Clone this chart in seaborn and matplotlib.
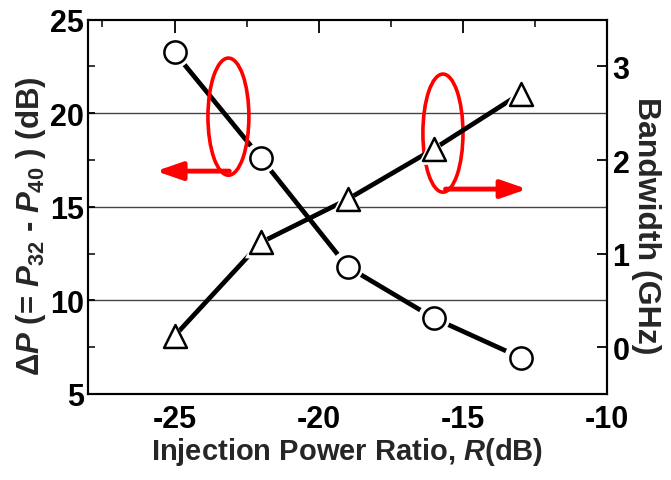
import matplotlib
matplotlib.use("Agg")
import matplotlib.pyplot as plt
import seaborn as sns
import pandas as pd
from matplotlib.patches import Ellipse
from matplotlib.ticker import MultipleLocator

# ---- data ----
injection_ratio = [-25, -22, -19, -16, -13]
delta_p = [23.25, 17.6, 11.8, 9.05, 6.95]
bandwidth = [0.12, 1.12, 1.58, 2.12, 2.71]

x_ticks = [-25, -20, -15, -10]
left_ticks = [5, 10, 15, 20, 25]
right_ticks = [0, 1, 2, 3]

sns.set_theme(style="white")
plt.rcParams["font.family"] = ["Liberation Sans", "DejaVu Sans"]
plt.rcParams["font.weight"] = "bold"
plt.rcParams["mathtext.fontset"] = "custom"
plt.rcParams["mathtext.it"] = "Liberation Sans:italic:bold"
plt.rcParams["mathtext.rm"] = "Liberation Sans:bold"
plt.rcParams["mathtext.bf"] = "Liberation Sans:bold"

df = pd.DataFrame({"R": injection_ratio, "dP": delta_p, "BW": bandwidth})

fig = plt.figure(figsize=(6.71, 4.81), dpi=100)
ax = fig.add_axes([88 / 671, 1 - 395 / 481, (607 - 88) / 671, (395 - 20.7) / 481])
ax2 = ax.twinx()

# grid
for v in [10, 15, 20]:
    ax.axhline(v, color="#444444", lw=1.0, zorder=0)

lw_line = 3.4
# delta P line (left)
sns.lineplot(data=df, x="R", y="dP", ax=ax, color="black", lw=lw_line, zorder=2)
sns.scatterplot(data=df, x="R", y="dP", ax=ax, marker="o", s=23 ** 2,
                color="white", edgecolor="none", zorder=3)
sns.scatterplot(data=df, x="R", y="dP", ax=ax, marker="o", s=16 ** 2,
                facecolor="white", edgecolor="black", linewidth=1.8, zorder=4)

# bandwidth line (right)
sns.lineplot(data=df, x="R", y="BW", ax=ax2, color="black", lw=lw_line, zorder=2)
sns.scatterplot(data=df, x="R", y="BW", ax=ax2, marker="^", s=23 ** 2,
                color="white", edgecolor="none", zorder=3)
sns.scatterplot(data=df, x="R", y="BW", ax=ax2, marker="^", s=16.5 ** 2,
                facecolor="white", edgecolor="black", linewidth=1.8, zorder=4)

ax.set_xlim(-28, -10)
ax.set_ylim(5, 25)
ax2.set_ylim(-0.5, 3.5)
ax.set_xticks(x_ticks)
ax.set_xticklabels([str(t) for t in x_ticks])
ax.xaxis.set_minor_locator(MultipleLocator(2.5))
ax.set_yticks(left_ticks)
ax.set_yticklabels([str(t) for t in left_ticks])
ax.yaxis.set_minor_locator(MultipleLocator(2.5))
ax2.set_yticks(right_ticks)
ax2.set_yticklabels([str(t) for t in right_ticks])

for a in (ax, ax2):
    for s in a.spines.values():
        s.set_color("black")
        s.set_linewidth(1.5)

ax.tick_params(axis="x", which="major", direction="in", length=9, width=1.3,
               top=True, labelsize=22, pad=7, colors="black")
ax.tick_params(axis="x", which="minor", direction="in", length=5, width=1.3, top=True)
ax.tick_params(axis="y", which="major", direction="in", length=5, width=1.3,
               labelsize=22, pad=3, colors="black")
ax.tick_params(axis="y", which="minor", direction="in", length=5, width=1.3)
ax2.tick_params(axis="y", which="major", direction="in", length=7, width=1.3,
                labelsize=22, pad=4, colors="black")

for lab in ax.get_xticklabels() + ax.get_yticklabels() + ax2.get_yticklabels():
    lab.set_fontweight("bold")

ax.set_xlabel(r"Injection Power Ratio, $\mathit{R}$(dB)", fontsize=21,
              fontweight="bold", labelpad=1)
ax.set_ylabel(r"$\mathit{ΔP}$ (= $\mathit{P}_{32}$ - $\mathit{P}_{40}$ ) (dB)",
              fontsize=22.5, fontweight="bold")
ax.yaxis.label.set_va("center")
ax.yaxis.set_label_coords(-0.110, 0.452)

ax2.set_ylabel("Bandwidth (GHz)", fontsize=23, fontweight="bold", rotation=-90)
ax2.yaxis.label.set_va("center")
ax2.yaxis.label.set_ha("center")
ax2.yaxis.set_label_coords(1.076, 0.452)

# red annotations
red = "#ff0000"
ax.add_patch(Ellipse((-23.13, 19.82), 1.42, 6.26, fill=False, ec=red, lw=2.6, zorder=5))
ax.annotate("", xy=(-25.64, 16.91), xytext=(-23.1, 16.91),
            arrowprops=dict(arrowstyle="-|>,head_length=1.3,head_width=0.45",
                            color=red, lw=3.5, shrinkA=0, shrinkB=0), zorder=5)
ax.add_patch(Ellipse((-15.69, 18.94), 1.39, 6.31, fill=False, ec=red, lw=2.6, zorder=5))
ax.annotate("", xy=(-12.77, 15.95), xytext=(-15.6, 15.95),
            arrowprops=dict(arrowstyle="-|>,head_length=1.3,head_width=0.45",
                            color=red, lw=3.5, shrinkA=0, shrinkB=0), zorder=5)

fig.savefig("out.png", dpi=100)
